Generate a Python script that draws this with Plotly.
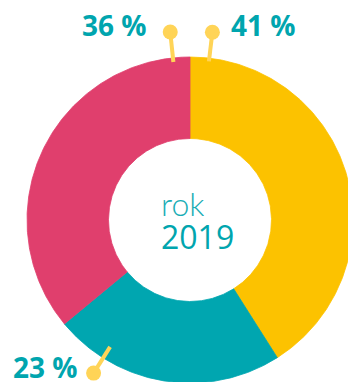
import numpy as np
import plotly.graph_objects as go

# Share of each segment, drawn clockwise from 12 o'clock
shares = [41, 23, 36]
slice_colors = ["#FCC200", "#00A6B0", "#E03F6D"]
value_labels = [f"{v} %" for v in shares]
center_lines = ["rok", "2019"]

TEAL = "#00A5AE"
DOT = "#FFD457"
HOLE = 0.50          # inner radius relative to outer radius
R_PX = 163           # outer radius in pixels
CX, CY = 190, 220    # ring centre in pixels
W, H = 348, 382


def polar(r, deg):
    t = np.radians(deg)
    return r * np.sin(t), r * np.cos(t)


def px(x, y):
    """Pixel position -> data units (outer radius = 1)."""
    return (x - CX) / R_PX, (CY - y) / R_PX


fig = go.Figure()

# ring segments
total = sum(shares)
start = 0.0
for v, col in zip(shares, slice_colors):
    end = start + 360.0 * v / total
    a = np.linspace(start, end, 240)
    ox, oy = polar(1.0, a)
    ix, iy = polar(HOLE, a[::-1])
    fig.add_trace(go.Scatter(
        x=np.concatenate([ox, ix, ox[:1]]),
        y=np.concatenate([oy, iy, oy[:1]]),
        fill="toself", fillcolor=col, mode="lines",
        line=dict(color=col, width=0.8), hoverinfo="skip", showlegend=False))
    start = end

# leader pins: (angle, inner radius, outer radius) for each segment
pins = [(6.8, 0.98, 1.16), (212.2, 0.92, 1.11), (-6.0, 0.975, 1.16)]
dot_x, dot_y = [], []
for ang, r0, r1 in pins:
    x0, y0 = polar(r0, ang)
    x1, y1 = polar(r1, ang)
    fig.add_shape(type="line", x0=x0, y0=y0, x1=x1, y1=y1,
                  line=dict(color=DOT, width=4), layer="above")
    dot_x.append(x1)
    dot_y.append(y1)
fig.add_trace(go.Scatter(x=dot_x, y=dot_y, mode="markers",
                         marker=dict(color=DOT, size=15, line=dict(width=0)),
                         hoverinfo="skip", showlegend=False))

# value labels beside the pins
label_spots = [
    (px(229, 25), "left"),
    (px(11, 367), "left"),
    (px(149, 25), "right"),
]
for text, ((lx, ly), anchor) in zip(value_labels, label_spots):
    fig.add_annotation(x=lx, y=ly, text=f"<b>{text}</b>", showarrow=False,
                       xanchor=anchor, yanchor="middle",
                       font=dict(family="Open Sans", size=28, color=TEAL))

# centre caption
cx0, cy0 = px(159, 203)
fig.add_annotation(x=cx0, y=cy0, text=center_lines[0], showarrow=False,
                   xanchor="left", yanchor="middle", height=31,
                   font=dict(family="Lato", size=32, color="#19ADB5",
                             weight=300))
cx1, cy1 = px(159, 236)
fig.add_annotation(x=cx1, y=cy1, text=center_lines[1], showarrow=False,
                   xanchor="left", yanchor="middle", height=31,
                   font=dict(family="Open Sans", size=32, color=TEAL,
                             weight=500))

x_lo, _ = px(0, 0)
x_hi, _ = px(W, 0)
_, y_hi = px(0, 0)
_, y_lo = px(0, H)
fig.update_layout(
    width=W, height=H,
    margin=dict(l=0, r=0, t=0, b=0),
    paper_bgcolor="white", plot_bgcolor="white",
    xaxis=dict(range=[x_lo, x_hi], visible=False, fixedrange=True),
    yaxis=dict(range=[y_lo, y_hi], visible=False, fixedrange=True),
    showlegend=False,
)

fig.write_html("out.html", config={"displayModeBar": False})
